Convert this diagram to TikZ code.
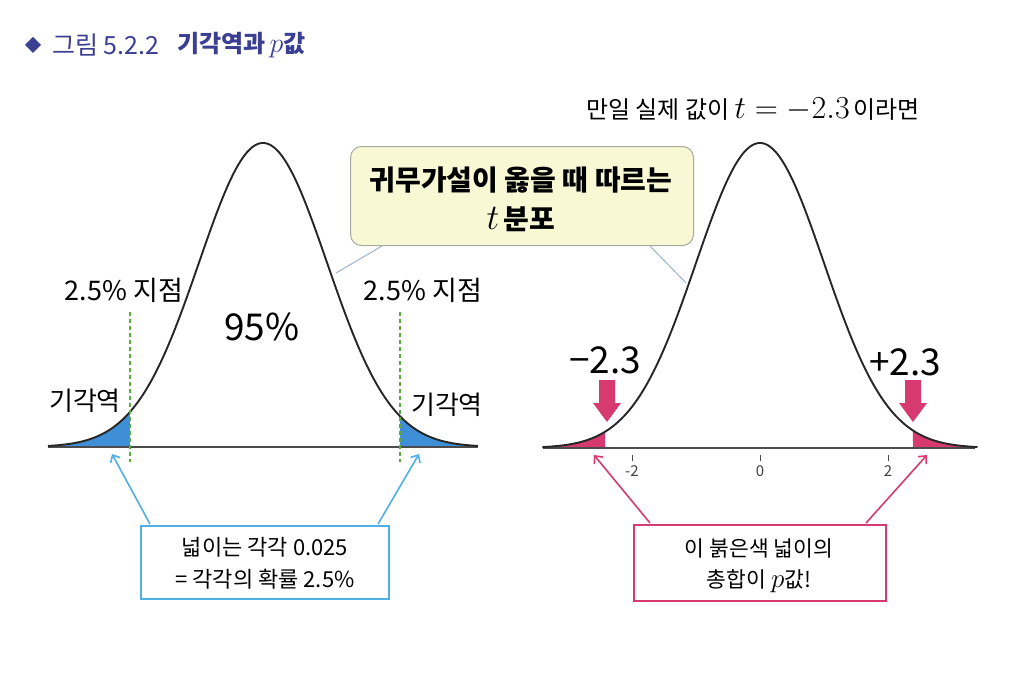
\RequirePackage{fix-cm}
\documentclass[tikz,border=0pt]{standalone}
\usepackage{fontspec}
\setmainfont{Noto Sans CJK KR}
\usetikzlibrary{arrows.meta}
\definecolor{tblue}{HTML}{3F8FD6}
\definecolor{lblue}{HTML}{4FB0E6}
\definecolor{tgreen}{HTML}{5AAB3C}
\definecolor{tpink}{HTML}{D63A6F}
\definecolor{tyellow}{HTML}{F8F8D4}
\definecolor{tbord}{HTML}{A8AAA0}
\definecolor{tline}{HTML}{9FB3C8}
\definecolor{tnavy}{HTML}{3A3F93}
\newcommand{\fsz}[1]{\fontsize{#1}{#1}\selectfont}
\tikzset{
  lbl/.style={inner sep=0pt, text=black},
  curve/.style={line width=1.9pt, black!85},
  axis/.style={line width=1.4pt, black!70},
  critline/.style={tgreen, dash pattern=on 4pt off 3pt, line width=2pt},
  bluearr/.style={lblue, line width=1.6pt, -{Straight Barb[length=6pt,width=11pt]}},
  pinkarr/.style={tpink, line width=1.6pt, -{Straight Barb[length=6pt,width=11pt]}},
  bluebox/.style={draw=lblue, line width=1.8pt, fill=white},
  pinkbox/.style={draw=tpink, line width=1.8pt, fill=white},
  callout/.style={draw=tbord, line width=1pt, fill=tyellow, rounded corners=11pt},
  callline/.style={tline, line width=1pt},
}
\begin{document}
\begin{tikzpicture}[x=1pt,y=-1pt]
\useasboundingbox (0,0) rectangle (1024,674);
% title
\fill[tnavy] (33,37) -- (41,45) -- (33,53) -- (25,45) -- cycle;
\node[lbl, anchor=west, text=tnavy] (ttl1) at (52,45) {\fsz{25}그림 5.2.2};
\node[lbl, anchor=west, text=tnavy] (ttl2) at (177,45) {\fsz{24}\bfseries 기각역과\,{\fsz{28}$p$}값};
% ---------- left curve ----------
\fill[tblue] plot[domain=-3.36:-2.08, samples=60] ({263+64*\x},{447-304*exp(-\x*\x/2)}) -- (130,447) -- cycle;
\fill[tblue] plot[domain=2.14:3.36, samples=60] ({263+64*\x},{447-304*exp(-\x*\x/2)}) -- (478,447) -- (400,447) -- cycle;
\draw[axis] (48,447) -- (478,447);
\draw[curve] plot[domain=-3.36:3.36, samples=150, smooth] ({263+64*\x},{447-304*exp(-\x*\x/2)});
\coordinate (lc1) at (130,312);
\coordinate (lc2) at (130,462);
\coordinate (rc1) at (400,312);
\coordinate (rc2) at (400,462);
\draw[critline] (lc1) -- (lc2);
\draw[critline] (rc1) -- (rc2);
\node[lbl] (p25l) at (124,290) {\fsz{27}2.5\% 지점};
\node[lbl] (p25r) at (423,290) {\fsz{27}2.5\% 지점};
\node[lbl] (p95) at (262,327) {\fsz{37}95\%};
\node[lbl] (rejl) at (85,401) {\fsz{26}기각역};
\node[lbl] (rejr) at (447,405) {\fsz{26}기각역};
% ---------- right curve ----------
\fill[tpink] plot[domain=-3.4:-2.42, samples=60] ({760+64*\x},{448-305*exp(-\x*\x/2)}) -- (605,448) -- cycle;
\fill[tpink] plot[domain=2.39:3.4, samples=60] ({760+64*\x},{448-305*exp(-\x*\x/2)}) -- (975,448) -- (913,448) -- cycle;
\draw[axis] (543,448) -- (975,448);
\draw[curve] plot[domain=-3.4:3.4, samples=150, smooth] ({760+64*\x},{448-305*exp(-\x*\x/2)});
\foreach \t/\l in {-2/-2,0/0,2/2}{
  \draw[black!70, line width=0.8pt] ({760+64*\t},455) -- ({760+64*\t},461);
  \node[lbl, text=black!75] (tick\t) at ({760+64*\t},471) {\fsz{15}\l};
}
\node[lbl] (m23) at (605,360) {\fsz{37}−2.3};
\node[lbl] (p23) at (905,362) {\fsz{37}+2.3};
\foreach \cx/\nm in {607/la, 913/ra}{
  \fill[tpink] (\cx-8,380) -- (\cx+8,380) -- (\cx+8,403) -- (\cx+14,403) -- (\cx,422) -- (\cx-14,403) -- (\cx-8,403) -- cycle;
}
\node[lbl, anchor=center] (ifval) at (753,110) {\fsz{24}만일 실제 값이 {\fsz{32}$t=-2.3$}\,이라면};
% ---------- callout ----------
\node[callout, minimum width=343pt, minimum height=99pt, anchor=north west] (call) at (350,146) {};
\node[lbl] (cl1) at (521,180) {\fsz{28}\bfseries 귀무가설이 옳을 때 따르는};
\node[lbl] (cl2) at (521,219) {\fsz{28}\bfseries {\fsz{36}$t$}\,분포};
\coordinate (cla) at (382,246);
\coordinate (clb) at (336,273);
\coordinate (clc) at (650,246);
\coordinate (cld) at (686,283);
\draw[callline] (cla) -- (clb);
\draw[callline] (clc) -- (cld);
% ---------- boxes ----------
\node[bluebox, minimum width=248pt, minimum height=73pt, anchor=north west] (bbox) at (140,525) {};
\node[lbl] (bt1) at (265,547) {\fsz{22}넓이는 각각 0.025};
\node[lbl] (bt2) at (265,579) {\fsz{22}= 각각의 확률 2.5\%};
\coordinate (ba1) at (150,524);
\coordinate (ba2) at (378,524);
\coordinate (bt1e) at (112,454);
\coordinate (bt2e) at (419,454);
\draw[bluearr] (ba1) -- (bt1e);
\draw[bluearr] (ba2) -- (bt2e);
\node[pinkbox, minimum width=252pt, minimum height=76pt, anchor=north west] (pbox) at (633,524) {};
\node[lbl] (pt1) at (759,548) {\fsz{21.5}이 붉은색 넓이의};
\node[lbl] (pt2) at (759,581) {\fsz{21.5}총합이 {\fsz{27}$p$}값!};
\coordinate (pa1) at (650,523);
\coordinate (pa2) at (866,523);
\coordinate (pe1) at (594,455);
\coordinate (pe2) at (927,455);
\draw[pinkarr] (pa1) -- (pe1);
\draw[pinkarr] (pa2) -- (pe2);
\end{tikzpicture}
\end{document}
